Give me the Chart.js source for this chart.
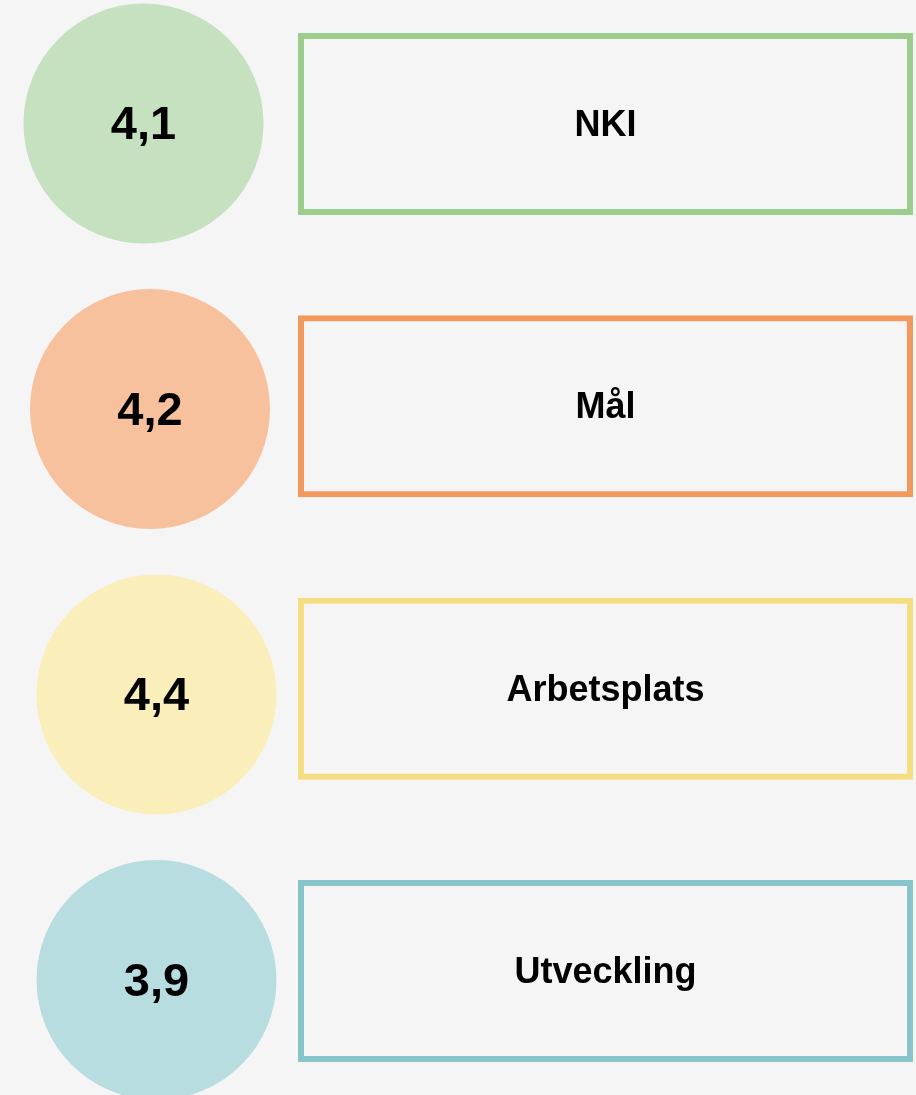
<!DOCTYPE html>
<html>
<head>
<meta charset="utf-8">
<script src="https://cdn.jsdelivr.net/npm/chart.js@4/dist/chart.umd.min.js"></script>
<style>
    html, body { margin: 0; padding: 0; background: #f5f5f5; }
    #wrap { width: 916px; height: 1095px; }
</style>
</head>
<body>
<div id="wrap"><canvas id="scoreChart" width="916" height="1095"></canvas></div>
<script>
// Data
const categories = ['NKI', 'Mål', 'Arbetsplats', 'Utveckling'];
const scores = [4.1, 4.2, 4.4, 3.9];

// Colours per row
const fillColors = ['#c5e1bf', '#f8c19e', '#faeebb', '#b8dde0'];
const borderColors = ['#9dcc8f', '#f29a5e', '#f5de80', '#88c5cb'];

// Layout (pixel units on the hidden x axis)
const circleX = [143.5, 150, 156.5, 156.5];
const boxSpan = [298, 913];

const fmt = v => v.toFixed(1).replace('.', ',');

const labelPlugin = {
    id: 'labelPlugin',
    afterDatasetsDraw(chart) {
        const ctx = chart.ctx;
        ctx.save();
        ctx.fillStyle = '#000';
        ctx.textAlign = 'center';
        ctx.textBaseline = 'middle';

        // labels inside boxes
        const boxMeta = chart.getDatasetMeta(0);
        ctx.font = 'bold 36px "Liberation Sans", Arial, sans-serif';
        boxMeta.data.forEach((bar, i) => {
            const cx = (bar.x + bar.base) / 2;
            ctx.fillText(categories[i], cx, bar.y + 2);
        });

        // values inside circles
        const dotMeta = chart.getDatasetMeta(1);
        ctx.font = 'bold 47px "Liberation Sans", Arial, sans-serif';
        dotMeta.data.forEach((pt, i) => {
            ctx.fillText(fmt(scores[i]), pt.x, pt.y + 3);
        });
        ctx.restore();
    }
};

const ctx = document.getElementById('scoreChart').getContext('2d');
new Chart(ctx, {
    data: {
        datasets: [
            {
                type: 'bar',
                indexAxis: 'y',
                yAxisID: 'yBox',
                data: categories.map((c, i) => ({ x: boxSpan, y: i })),
                backgroundColor: 'rgba(0,0,0,0)',
                borderColor: borderColors,
                borderWidth: 6,
                borderSkipped: false,
                inflateAmount: 0,
                barThickness: 182,
                clip: false
            },
            {
                type: 'scatter',
                yAxisID: 'yDot',
                data: scores.map((v, i) => ({ x: circleX[i], y: i })),
                backgroundColor: fillColors,
                borderWidth: 0,
                pointRadius: 120,
                pointHoverRadius: 120,
                clip: false
            }
        ]
    },
    options: {
        responsive: false,
        animation: false,
        events: [],
        layout: { padding: 0, autoPadding: false },
        plugins: {
            legend: { display: false },
            tooltip: { enabled: false },
            title: { display: false }
        },
        scales: {
            x: { type: 'linear', display: false, offset: false, min: 0, max: 916 },
            yDot: { type: 'linear', display: false, offset: false, reverse: true, min: -0.4326, max: 3.4028 },
            yBox: { type: 'linear', display: false, offset: false, reverse: true, min: -0.4392, max: 3.4392 }
        }
    },
    plugins: [labelPlugin]
});
</script>
</body>
</html>
